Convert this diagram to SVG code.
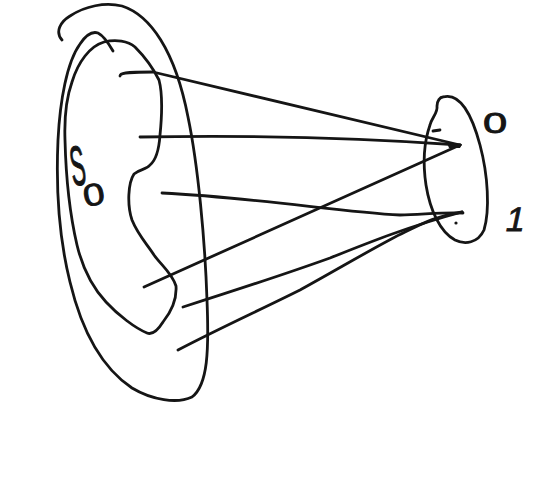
<svg xmlns="http://www.w3.org/2000/svg" width="554" height="478" viewBox="0 0 554 478">
<style>
.s{fill:none;stroke:#151515;stroke-width:2.8;stroke-linecap:round;stroke-linejoin:round}
.t{font-family:"Liberation Sans",Arial,sans-serif;fill:#151515;stroke:#151515;stroke-width:0.8}
</style>
<rect width="554" height="478" fill="#ffffff"/>
<g id="outer-set">
<path class="s" d="M62,40 C55,32 60,22 70,16 C85,6 105,2 122,6 C150,15 175,50 188,117 C198,165 205,240 207,300 C209,350 208,385 192,397 C177,404 152,400 132,388 C102,368 82,332 70,282 C59,238 56,185 58,140 C60,100 67,62 80,44 C86,35 92,31 98,33 C104,36 109,44 113,51"/>
</g>
<g id="S0-region">
<path class="s" d="M72,82 C78,62 90,46 104,42 C116,39 128,41 135,47 C143,55 152,66 159,80 C163,95 162,115 160,135 C159,150 156,160 150,165 C146,170 140,169 134,174 C128,183 127,205 132,220 C138,235 147,244 154,255 C161,265 172,273 176,286 C177,300 171,312 163,322 C158,330 152,335 147,333 C135,328 118,315 106,302 C93,288 83,270 77,245 C70,215 66,180 65,140 C64,112 67,96 72,82"/>
</g>
<g id="label-S0">
<text class="t" font-size="40" transform="translate(73,186) rotate(-8) scale(0.55,1.4)">S</text>
<text class="t" font-size="31" transform="translate(85,207) rotate(-10) scale(1.25,1)">0</text>
</g>
<g id="target-set">
<path class="s" d="M443,97 C460,92 472,115 480,145 C488,175 490,210 484,230 C478,243 465,245 455,240 C440,232 430,210 426,185 C423,165 423,145 430,125 C432,117 438,113 437,106 C437,101 440,97 443,97"/>
<path class="s" d="M433,131 L440,130"/>
</g>
<g id="label-0">
<text class="t" font-size="29" transform="translate(483,133) scale(1.5,1)">0</text>
</g>
<g id="label-1">
<text class="t" font-size="34" transform="translate(504,231) skewX(-12)">1</text>
</g>
<g id="connectors">
<path class="s" d="M120,76 C120,73 124,72 153,72 L460,145"/>
<path class="s" d="M140,137 C250,135 350,137 460,145"/>
<path class="s" d="M144,287 L460,145"/>
<path class="s" d="M162,193 C260,198 340,212 400,215 C420,215 440,212 463,213"/>
<path class="s" d="M183,307 C230,292 280,276 330,258 C370,242 410,226 462,212"/>
<path class="s" d="M178,350 C220,328 260,310 300,290 C340,268 380,244 405,232 C425,222 440,215 462,212"/>
<path fill="#151515" d="M447,143 L462,144 L460,148 L449,148 Z"/>
<circle cx="456" cy="223" r="1.6" fill="#151515"/>
</g>
</svg>
